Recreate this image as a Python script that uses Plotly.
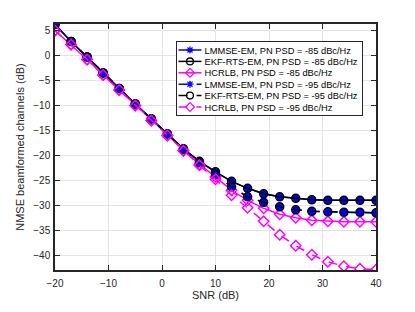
import plotly.graph_objects as go

snr = list(range(-20, 41, 3))
lmmse_85 = [6.2, 2.8, -0.3, -3.5, -6.6, -9.7, -12.7, -15.7, -18.7, -21.2, -23.3, -25.2, -26.6, -27.7, -28.3, -28.6, -28.9, -29.0, -29.0, -29.0, -29.0]
ekf_85 = [6.2, 2.8, -0.3, -3.5, -6.6, -9.7, -12.7, -15.7, -18.7, -21.2, -23.3, -25.2, -26.6, -27.7, -28.3, -28.6, -28.9, -29.0, -29.0, -29.0, -29.0]
hcrlb_85 = [5.0, 2.2, -0.8, -3.9, -6.9, -10.0, -13.0, -16.0, -19.0, -21.8, -24.3, -27.0, -29.0, -30.6, -31.8, -32.5, -33.0, -33.2, -33.3, -33.3, -33.3]
lmmse_95 = [6.2, 2.8, -0.3, -3.5, -6.6, -9.7, -12.7, -15.7, -18.8, -21.5, -23.8, -26.3, -28.3, -29.4, -30.3, -30.9, -31.2, -31.3, -31.4, -31.4, -31.5]
ekf_95 = [6.2, 2.8, -0.3, -3.5, -6.6, -9.7, -12.7, -15.7, -18.8, -21.5, -23.8, -26.3, -28.3, -29.4, -30.3, -30.9, -31.2, -31.3, -31.4, -31.4, -31.5]
hcrlb_95 = [5.0, 2.2, -0.8, -3.9, -6.9, -10.0, -13.0, -16.0, -19.1, -22.0, -24.8, -28.0, -30.5, -33.2, -35.9, -38.1, -39.9, -41.3, -42.2, -42.7, -42.9]

names = [
    "LMMSE-EM, PN PSD = -85 dBc/Hz",
    "EKF-RTS-EM, PN PSD = -85 dBc/Hz",
    "HCRLB, PN PSD = -85 dBc/Hz",
    "LMMSE-EM, PN PSD = -95 dBc/Hz",
    "EKF-RTS-EM, PN PSD = -95 dBc/Hz",
    "HCRLB, PN PSD = -95 dBc/Hz",
]

BLUE = "#0000ff"
MAG = "#ff00ff"
BLK = "#000000"

fig = go.Figure()

def add(y, name, color, symbol, dash, size=8, legend=True):
    fig.add_trace(go.Scatter(
        x=snr, y=y, name=name, mode="lines+markers", showlegend=legend,
        line=dict(color=color, width=1.5, dash=dash),
        marker=dict(symbol=symbol, size=size, color=color,
                    line=dict(color=color, width=1.5)),
    ))

# blue fill inside the circles (the LMMSE asterisks overlap the EKF circles)
fig.add_trace(go.Scatter(x=snr, y=lmmse_85, mode="markers", showlegend=False,
                         marker=dict(symbol="circle", size=7, color=BLUE, line=dict(width=0))))
add(lmmse_85, names[0], BLUE, "asterisk-open", "solid", size=7)
add(ekf_85, names[1], BLK, "circle-open", "solid", size=8)
add(hcrlb_85, names[2], MAG, "diamond-open", "solid", size=8)
fig.add_trace(go.Scatter(x=snr, y=lmmse_95, mode="markers", showlegend=False,
                         marker=dict(symbol="circle", size=7, color=BLUE, line=dict(width=0))))
add(lmmse_95, names[3], BLUE, "asterisk-open", "dash", size=7)
add(ekf_95, names[4], BLK, "circle-open", "dash", size=8)
add(hcrlb_95, names[5], MAG, "diamond-open", "dash", size=8)

axis_common = dict(
    showline=True, linecolor="#262626", linewidth=1.5, mirror="ticks",
    ticks="inside", ticklen=5, tickcolor="#262626", tickwidth=1,
    showgrid=True, gridcolor="#e3e3e3", gridwidth=1, zeroline=False,
    tickfont=dict(family="Liberation Sans, Arial", size=10, color="#262626"),
)

# page body has an 8px margin, so the figure is drawn 8px right/down
fig.update_layout(
    width=407, height=304,
    margin=dict(l=46, r=39, t=16, b=34),
    paper_bgcolor="white", plot_bgcolor="white",
    font=dict(family="Liberation Sans, Arial", size=11, color="#262626"),
    xaxis=dict(range=[-20, 40], tickvals=[-20, -10, 0, 10, 20, 30, 40], ticklabelstandoff=3,
               title=dict(text="SNR (dB)", font=dict(size=11), standoff=4), **axis_common),
    yaxis=dict(range=[-42.95, 6.3], tickvals=[-40, -35, -30, -25, -20, -15, -10, -5, 0, 5],
               ticklabelstandoff=1,
               title=dict(text="NMSE beamformed channels (dB)", font=dict(size=11), standoff=6),
               **axis_common),
    legend=dict(x=0.95, y=0.928, xanchor="right", yanchor="top",
                bgcolor="white", bordercolor="#262626", borderwidth=1,
                font=dict(family="Liberation Sans, Arial", size=9.3, color="#000000"),
                tracegroupgap=0, itemwidth=30),
)

# Compact the legend layout to match MATLAB's tighter legend spacing
post = """
var gd = document.getElementById('{plot_id}');
function compactLegend() {
  var leg = gd.querySelector('g.legend');
  if (!leg) return;
  var bg = leg.querySelector('rect.bg');
  var tr = leg.querySelectorAll('g.traces');
  var first = 9, step = 11.4, maxW = 0, tx = 28.5;
  tr.forEach(function (t, i) {
    t.setAttribute('transform', 'translate(0,' + (first + i * step) + ')');
    var txt = t.querySelector('text.legendtext');
    if (txt) {
      txt.setAttribute('x', tx);
      txt.querySelectorAll('tspan').forEach(function (s) { if (s.getAttribute('x')) s.setAttribute('x', tx); });
      var w = txt.getComputedTextLength ? txt.getComputedTextLength() : txt.getBBox().width;
      maxW = Math.max(maxW, tx + w);
    }
    t.querySelectorAll('.legendlines path').forEach(function (p) { p.setAttribute('d', 'M2.5,0h23'); });
    t.querySelectorAll('.legendpoints path').forEach(function (p) { p.setAttribute('transform', 'translate(14,0) scale(0.85)'); });
    var tog = t.querySelector('rect.legendtoggle');
    if (tog) { tog.setAttribute('y', -step / 2); tog.setAttribute('height', step); }
  });
  var H = first + (tr.length - 1) * step + 7.7;
  var W = Math.max(186, maxW + 4);
  if (bg) { bg.setAttribute('height', H); bg.setAttribute('width', W); }
  leg.querySelectorAll('clipPath rect').forEach(function (r) { r.setAttribute('height', H); r.setAttribute('width', W); });
  leg.setAttribute('transform', 'translate(168,33)');
}
compactLegend();
gd.on('plotly_afterplot', compactLegend);
"""

fig.write_html("out.html", post_script=post)
